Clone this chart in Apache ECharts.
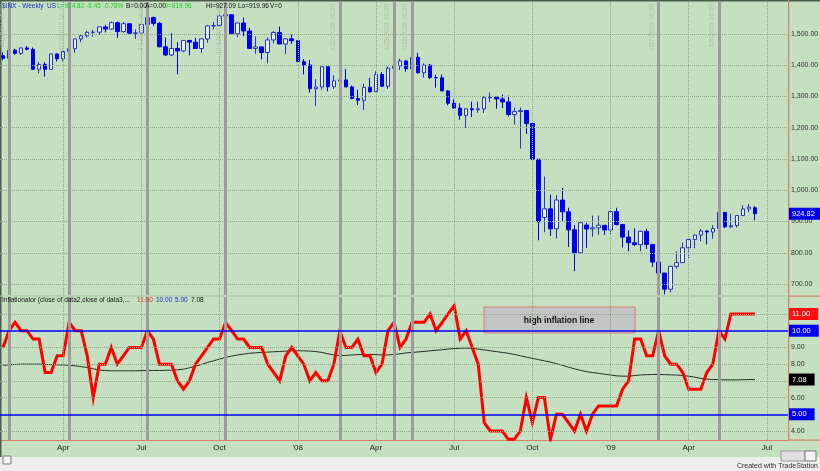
<!DOCTYPE html>
<html>
<head>
<meta charset="utf-8">
<style>html,body{margin:0;padding:0;background:#c5dfc1;}#c{width:820px;height:471px;}</style>
<script src="https://cdn.jsdelivr.net/npm/echarts@6/dist/echarts.min.js"></script>
</head>
<body>
<div id="c"></div>
<script>
// ---------- DATA ----------
const categories = [
'2007-01-26','2007-02-02','2007-02-09','2007-02-16','2007-02-23','2007-03-02','2007-03-09','2007-03-16','2007-03-23','2007-03-30',
'2007-04-06','2007-04-13','2007-04-20','2007-04-27','2007-05-04','2007-05-11','2007-05-18','2007-05-25','2007-06-01','2007-06-08',
'2007-06-15','2007-06-22','2007-06-29','2007-07-06','2007-07-13','2007-07-20','2007-07-27','2007-08-03','2007-08-10','2007-08-17',
'2007-08-24','2007-08-31','2007-09-07','2007-09-14','2007-09-21','2007-09-28','2007-10-05','2007-10-12','2007-10-19','2007-10-26',
'2007-11-02','2007-11-09','2007-11-16','2007-11-23','2007-11-30','2007-12-07','2007-12-14','2007-12-21','2007-12-28','2008-01-04',
'2008-01-11','2008-01-18','2008-01-25','2008-02-01','2008-02-08','2008-02-15','2008-02-22','2008-02-29','2008-03-07','2008-03-14',
'2008-03-20','2008-03-28','2008-04-04','2008-04-11','2008-04-18','2008-04-25','2008-05-02','2008-05-09','2008-05-16','2008-05-23',
'2008-05-30','2008-06-06','2008-06-13','2008-06-20','2008-06-27','2008-07-03','2008-07-11','2008-07-18','2008-07-25','2008-08-01',
'2008-08-08','2008-08-15','2008-08-22','2008-08-29','2008-09-05','2008-09-12','2008-09-19','2008-09-26','2008-10-03','2008-10-10',
'2008-10-17','2008-10-24','2008-10-31','2008-11-07','2008-11-14','2008-11-21','2008-11-28','2008-12-05','2008-12-12','2008-12-19',
'2008-12-26','2009-01-02','2009-01-09','2009-01-16','2009-01-23','2009-01-30','2009-02-06','2009-02-13','2009-02-20','2009-02-27',
'2009-03-06','2009-03-13','2009-03-20','2009-03-27','2009-04-03','2009-04-09','2009-04-17','2009-04-24','2009-05-01','2009-05-08',
'2009-05-15','2009-05-22','2009-05-29','2009-06-05','2009-06-12','2009-06-19','2009-06-26','2009-07-03','2009-07-10','2009-07-17',
'2009-07-24'];

const opens = [
1430.5,1422.0,1448.3,1438.0,1455.5,1451.0,1387.1,1402.8,1386.9,1436.1,
1420.8,1443.8,1452.8,1484.4,1494.1,1505.6,1505.9,1522.8,1515.7,1536.3,
1507.7,1532.9,1502.6,1503.4,1530.4,1552.5,1534.1,1459.0,1433.0,1453.6,
1445.9,1479.4,1474.0,1453.6,1484.3,1525.8,1526.8,1557.6,1561.8,1500.6,
1535.3,1509.7,1453.7,1458.7,1440.7,1481.1,1504.7,1468.0,1484.5,1478.5,
1411.6,1401.0,1325.2,1330.6,1395.4,1331.3,1350.0,1353.1,1330.6,1293.4,
1288.1,1329.5,1315.2,1370.4,1332.8,1390.3,1397.8,1413.9,1388.3,1425.4,
1375.9,1400.4,1360.7,1360.0,1317.9,1278.4,1262.9,1239.5,1260.7,1257.8,
1260.3,1296.3,1298.2,1292.2,1282.8,1242.3,1251.7,1255.1,1213.3,1099.2,
912.8,940.6,876.8,968.8,931.0,873.3,800.0,888.6,876.1,879.7,
887.9,872.8,931.8,890.4,850.1,832.0,825.9,868.6,826.8,770.1,
735.1,683.4,756.6,768.5,815.9,842.5,856.6,869.6,866.2,877.5,
929.2,882.9,887.0,919.1,940.1,944.0];
const highs = [
1440.7,1449.3,1453.0,1457.0,1461.6,1456.9,1410.2,1409.8,1437.7,1437.8,
1444.9,1453.1,1484.7,1498.0,1510.3,1513.8,1522.8,1529.3,1540.6,1540.5,
1538.7,1533.4,1514.6,1532.4,1555.1,1555.9,1538.0,1488.3,1503.9,1474.0,
1479.4,1481.2,1488.0,1485.4,1529.0,1538.7,1561.3,1576.1,1563.0,1535.3,
1552.8,1520.0,1492.1,1460.0,1488.9,1510.6,1523.6,1486.0,1498.9,1478.5,
1420.0,1416.9,1355.2,1396.0,1396.0,1368.0,1367.9,1388.3,1335.0,1322.0,
1341.0,1359.7,1380.9,1378.1,1395.9,1400.0,1421.6,1416.0,1426.0,1440.2,
1406.0,1404.1,1370.0,1370.6,1321.0,1291.0,1278.0,1262.3,1283.5,1284.0,
1300.7,1313.2,1300.0,1306.0,1303.0,1265.0,1265.0,1255.1,1215.0,1099.2,
1044.3,985.4,984.4,1007.5,944.0,889.0,896.6,896.2,918.9,918.9,
889.0,934.7,943.9,890.4,871.8,877.9,870.8,876.8,827.8,780.0,
735.1,758.3,804.5,832.9,845.6,858.4,875.6,871.8,888.7,930.2,
930.2,924.6,920.0,951.4,956.2,949.0];
const lows = [
1416.0,1420.4,1433.4,1433.0,1448.4,1384.4,1374.1,1363.8,1386.0,1412.0,
1412.4,1433.6,1439.9,1473.7,1488.8,1491.4,1497.7,1505.2,1513.8,1487.4,
1504.5,1500.6,1484.1,1503.3,1510.3,1526.3,1458.0,1430.0,1429.1,1370.6,
1442.0,1432.0,1451.9,1439.4,1471.8,1514.4,1526.8,1546.7,1500.3,1489.6,
1492.7,1452.0,1436.8,1419.0,1406.1,1469.8,1467.8,1435.6,1468.2,1411.2,
1370.6,1312.3,1270.1,1322.1,1316.8,1324.0,1320.0,1330.6,1291.0,1272.7,
1257.0,1312.4,1315.2,1332.0,1324.4,1372.2,1385.0,1379.0,1380.0,1373.7,
1360.4,1356.0,1328.2,1317.0,1272.0,1260.7,1225.4,1200.4,1234.0,1248.0,
1247.5,1282.0,1261.0,1263.0,1236.0,1210.0,1133.5,1180.0,1099.0,839.8,
865.8,853.8,845.3,900.0,818.7,741.0,800.0,815.7,851.4,857.7,
857.1,857.1,887.7,817.0,804.3,821.7,805.0,812.3,754.3,729.6,
666.8,672.9,749.0,767.0,779.8,814.5,836.9,826.8,845.0,866.0,
878.9,879.0,880.6,919.0,930.0,903.8];
const closes = [
1422.2,1448.4,1438.1,1455.5,1451.2,1387.2,1402.8,1387.0,1436.1,1420.9,
1443.8,1452.9,1484.4,1494.1,1505.6,1505.9,1522.8,1515.7,1536.3,1507.7,
1532.9,1502.6,1503.4,1530.4,1552.5,1534.1,1459.0,1433.1,1453.6,1445.9,
1479.4,1474.0,1453.6,1484.3,1525.8,1526.8,1557.6,1561.8,1500.6,1535.3,
1509.7,1453.7,1458.7,1440.7,1481.1,1504.7,1468.0,1484.5,1478.5,1411.6,
1401.0,1325.2,1330.6,1395.4,1331.3,1350.0,1353.1,1330.6,1293.4,1288.1,
1329.5,1315.2,1370.4,1332.8,1390.3,1397.8,1413.9,1388.3,1425.4,1375.9,
1400.4,1360.7,1360.0,1317.9,1278.4,1262.9,1239.5,1260.7,1257.8,1260.3,
1296.3,1298.2,1292.2,1282.8,1242.3,1251.7,1255.1,1213.3,1099.2,899.2,
940.6,876.8,968.8,931.0,873.3,800.0,896.2,876.1,879.7,887.9,
872.8,931.8,890.4,850.1,832.0,825.9,868.6,826.8,770.1,735.1,
683.4,756.6,768.5,815.9,842.5,856.6,869.6,866.2,877.5,929.2,
882.9,887.0,919.1,940.1,946.2,924.82];

const inflationator = [
9,10,10.5,10,10,9.5,9.5,7.5,7.5,8.5,
8.5,10.5,10,10,8.5,6,8,8,9,8,
8.5,9,9,9,10,9.5,8,8,8,7,
6.5,7,8,8.5,9,9.5,9.5,10.5,10,9.5,
9.5,9,9,9,8,7.5,7,8.5,9,8.5,
8,7,7.5,7,7,8,10,9,9,9.5,
8.5,8.5,7.5,8,10,10.5,9,9.5,10.5,10.5,
10.5,11,10,10.5,11,11.5,9.5,10,9,8,
4.5,4,4,4,3.5,3.5,4,6,4.5,6,
6,3.5,5,5,4.5,4,5,4,5,5.5,
5.5,5.5,5.5,6.5,7,9.5,9.5,8.5,8.5,10,
8.5,8,8,7.5,6.5,6.5,6.5,7.5,8,10,
9.5,11,11,11,11,11];
const inflationatorAvg = [
7.93,7.96,7.98,8.0,8.0,8.0,8.0,7.98,7.97,7.96,
7.95,7.93,7.9,7.85,7.8,7.72,7.65,7.62,7.6,7.6,
7.6,7.6,7.6,7.61,7.62,7.62,7.62,7.63,7.64,7.66,
7.7,7.78,7.88,7.98,8.1,8.2,8.3,8.4,8.48,8.55,
8.6,8.65,8.68,8.7,8.72,8.74,8.76,8.78,8.8,8.8,
8.8,8.78,8.75,8.7,8.62,8.55,8.52,8.52,8.55,8.57,
8.58,8.58,8.57,8.55,8.55,8.58,8.62,8.67,8.7,8.73,
8.76,8.8,8.83,8.86,8.9,8.93,8.95,8.96,8.95,8.9,
8.85,8.8,8.75,8.7,8.65,8.58,8.5,8.42,8.35,8.27,
8.2,8.12,8.03,7.93,7.82,7.72,7.63,7.55,7.5,7.45,
7.4,7.35,7.3,7.28,7.28,7.32,7.35,7.37,7.38,7.38,
7.37,7.36,7.35,7.32,7.28,7.22,7.15,7.1,7.08,7.07,
7.06,7.06,7.06,7.07,7.08,7.08];

const priceTicks = [700,800,900,1000,1100,1200,1300,1400,1500];
const indGridTicks = [4,6,7,8,9,11];
const indLabelTicks = [4,6,8,9];
const bandLevels = [10,5];
const monthTickIdx = [10,23,36,49,62,75,88,101,114,127];
const monthTickText = ['Apr','Jul','Oct',"'08",'Apr','Jul','Oct',"'09",'Apr','Jul'];
const signalIdx = [1,11,24,37,56,65,68,109,119];

// ---------- CHART ----------
const FONT = "'Liberation Sans', Arial, sans-serif";
const fmt = v => v.toLocaleString('en-US',{minimumFractionDigits:2,maximumFractionDigits:2});
const candleData = closes.map((c,i)=>[opens[i],c,lows[i],highs[i]]);
const lastClose = closes[closes.length-1];
const lastInd = inflationator[inflationator.length-1];
const lastAvg = inflationatorAvg[inflationatorAvg.length-1];
const GRID_C = '#8ea98a';
const SIG_C = '#9c9c9c';

function sigLabel(i){
  const p = categories[i].split('-');
  return (+p[1])+'/'+(+p[2])+'/'+p[0]+' 16:00';
}
function boxLabel(text,bg,fg){
  return {show:true,position:'end',distance:1,formatter:text,color:fg||'#fff',backgroundColor:bg,
    fontSize:7.5,fontFamily:FONT,padding:[2,8,1,3],lineHeight:9};
}
const hidden = {width:0,color:'rgba(0,0,0,0)'};

const topGridLines = []
  .concat(priceTicks.map(v=>({yAxis:v,lineStyle:{type:'dotted',color:GRID_C,width:1},
     label:{show:true,position:'end',distance:3,formatter:fmt(v),color:'#333',fontSize:7,fontFamily:FONT}})))
  .concat(monthTickIdx.map(i=>({xAxis:i,lineStyle:{type:'dotted',color:GRID_C,width:1},label:{show:false}})))
  .concat(signalIdx.map(i=>({xAxis:i,lineStyle:{type:'solid',color:SIG_C,width:3},
     label:{show:true,position:'insideEndTop',distance:3,formatter:sigLabel(i),color:'#aebfab',fontSize:6.5,fontFamily:FONT}})));

const botGridLines = []
  .concat(indGridTicks.map(v=>({yAxis:v,lineStyle:{type:'dotted',color:GRID_C,width:1},
     label:{show:indLabelTicks.indexOf(v)>=0,position:'end',distance:3,formatter:fmt(v),color:'#333',fontSize:7,fontFamily:FONT}})))
  .concat(monthTickIdx.map(i=>({xAxis:i,lineStyle:{type:'dotted',color:GRID_C,width:1},label:{show:false}})))
  .concat(signalIdx.map(i=>({xAxis:i,lineStyle:{type:'solid',color:SIG_C,width:3},label:{show:false}})));

function txt(x,y,text,fill,size,extra){
  return {type:'text',x:x,y:y,z:7,silent:true,
    style:Object.assign({text:text,fill:fill,fontSize:size||6.5,fontFamily:FONT,verticalAlign:'middle'},extra||{})};
}

const chart = echarts.init(document.getElementById('c'),null,{renderer:'canvas'});
chart.setOption({
  animation:false,
  backgroundColor:'#c5dfc1',
  grid:[
    {left:0,top:1,width:788,height:294},
    {left:0,top:297,width:788,height:143}
  ],
  xAxis:[
    {type:'category',gridIndex:0,data:categories,boundaryGap:true,show:false},
    {type:'category',gridIndex:1,data:categories,boundaryGap:true,
     axisLine:{show:true,lineStyle:{color:'#d8806c',width:1}},
     axisTick:{show:false},splitLine:{show:false},
     axisLabel:{interval:(idx)=>monthTickIdx.indexOf(idx)>=0,
       formatter:(val,idx)=>{const k=monthTickIdx.indexOf(idx);return k>=0?monthTickText[k]:'';},
       color:'#222',fontSize:8,fontFamily:FONT,margin:4}}
  ],
  yAxis:[
    {type:'value',gridIndex:0,min:664.8,max:1605.6,show:false,splitLine:{show:false}},
    {type:'value',gridIndex:1,min:3.4615,max:12.017,show:false,splitLine:{show:false}}
  ],
  series:[
    {name:'gridTop',type:'line',xAxisIndex:0,yAxisIndex:0,data:[],z:1,silent:true,
     markLine:{silent:true,symbol:['none','none'],animation:false,data:topGridLines}},
    {name:'$INX',type:'candlestick',xAxisIndex:0,yAxisIndex:0,data:candleData,barWidth:4,z:3,
     itemStyle:{color:'#e6f0e3',color0:'#0000f0',borderColor:'#2433c8',borderColor0:'#0000f0',borderWidth:1},
     markLine:{silent:true,symbol:['none','none'],animation:false,
       data:[{yAxis:lastClose,lineStyle:hidden,label:boxLabel(fmt(lastClose),'#0000ee')}]}},
    {name:'gridBottom',type:'line',xAxisIndex:1,yAxisIndex:1,data:[],z:1,silent:true,
     markLine:{silent:true,symbol:['none','none'],animation:false,data:botGridLines}},
    {name:'bands',type:'line',xAxisIndex:1,yAxisIndex:1,data:[],z:2,silent:true,
     markLine:{silent:true,symbol:['none','none'],animation:false,
       data:bandLevels.map(v=>({yAxis:v,lineStyle:{type:'solid',color:'#0000ff',width:1.5},label:boxLabel(fmt(v),'#0000ee')}))}},
    {name:'avg',type:'line',xAxisIndex:1,yAxisIndex:1,data:inflationatorAvg,symbol:'none',z:3,silent:true,
     lineStyle:{color:'#263026',width:1},
     markLine:{silent:true,symbol:['none','none'],animation:false,
       data:[{yAxis:lastAvg,lineStyle:hidden,label:boxLabel(fmt(lastAvg),'#000000')}]}},
    {name:'Inflationator',type:'line',xAxisIndex:1,yAxisIndex:1,data:inflationator,symbol:'none',z:4,silent:true,
     lineStyle:{color:'#ff0000',width:3,join:'miter'},
     markLine:{silent:true,symbol:['none','none'],animation:false,
       data:[{yAxis:lastInd,lineStyle:hidden,label:boxLabel(fmt(lastInd),'#ff1010')}]}}
  ],
  graphic:[
    // frame lines
    {type:'rect',shape:{x:0,y:0,width:820,height:1.5},style:{fill:'#4c5c4a'},z:5,silent:true},
    {type:'rect',shape:{x:0,y:0,width:1.5,height:457},style:{fill:'#4c5c4a'},z:5,silent:true},
    {type:'rect',shape:{x:788,y:0,width:1.2,height:441},style:{fill:'#d8806c'},z:5,silent:true},
    {type:'rect',shape:{x:0,y:295.5,width:788,height:1},style:{fill:'#a9c2a5'},z:5,silent:true},
    {type:'rect',shape:{x:788,y:295.5,width:32,height:1.2},style:{fill:'#d8806c'},z:5,silent:true},
    {type:'rect',shape:{x:788,y:439.5,width:32,height:1.2},style:{fill:'#d8806c'},z:5,silent:true},
    // bottom strip
    {type:'rect',shape:{x:0,y:457,width:820,height:14},style:{fill:'#ededed'},z:5,silent:true},
    {type:'rect',shape:{x:3,y:456,width:8,height:8},style:{fill:'#f4f4f4',stroke:'#777',lineWidth:1},z:6,silent:true},
    {type:'rect',shape:{x:781,y:451,width:24,height:10},style:{fill:'#e0e0e0',stroke:'#999',lineWidth:1},z:6,silent:true},
    {type:'rect',shape:{x:805,y:451,width:11,height:10},style:{fill:'#f4f4f4',stroke:'#777',lineWidth:1},z:6,silent:true},
    txt(818,466,'Created with TradeStation','#333',7,{align:'right'}),
    // header
    txt(2,6,'$INX - Weekly  US','#1a2fc0'),
    txt(57,6,'L=924.82 -8.45 -0.78%','#22cc22'),
    txt(126,6,'B=0.00','#111'),
    txt(145,6,'A=0.00','#111'),
    txt(163,6,'O=919.96','#22cc22'),
    txt(206,6,'Hi=927.09','#111'),
    txt(238,6,'Lo=919.96','#111'),
    txt(270,6,'V=0','#111'),
    // indicator title
    txt(2,300,'Inflationator (close of data2,close of data3,...','#111'),
    txt(137,300,'11.00','#e03020'),
    txt(156,300,'10.00','#1a2fd0'),
    txt(175,300,'5.00','#1a2fd0'),
    txt(191,300,'7.08','#111'),
    // annotation box
    {type:'rect',shape:{x:484,y:307,width:151,height:26},style:{fill:'#c4c4c4',stroke:'#d8806c',lineWidth:1},z:1.5,silent:true},
    {type:'text',x:559,y:320.5,style:{text:'high inflation line',fill:'#111',fontSize:8.5,fontWeight:'bold',fontFamily:FONT,align:'center',verticalAlign:'middle'},z:1.6,silent:true}
  ]
});
</script>
</body>
</html>
